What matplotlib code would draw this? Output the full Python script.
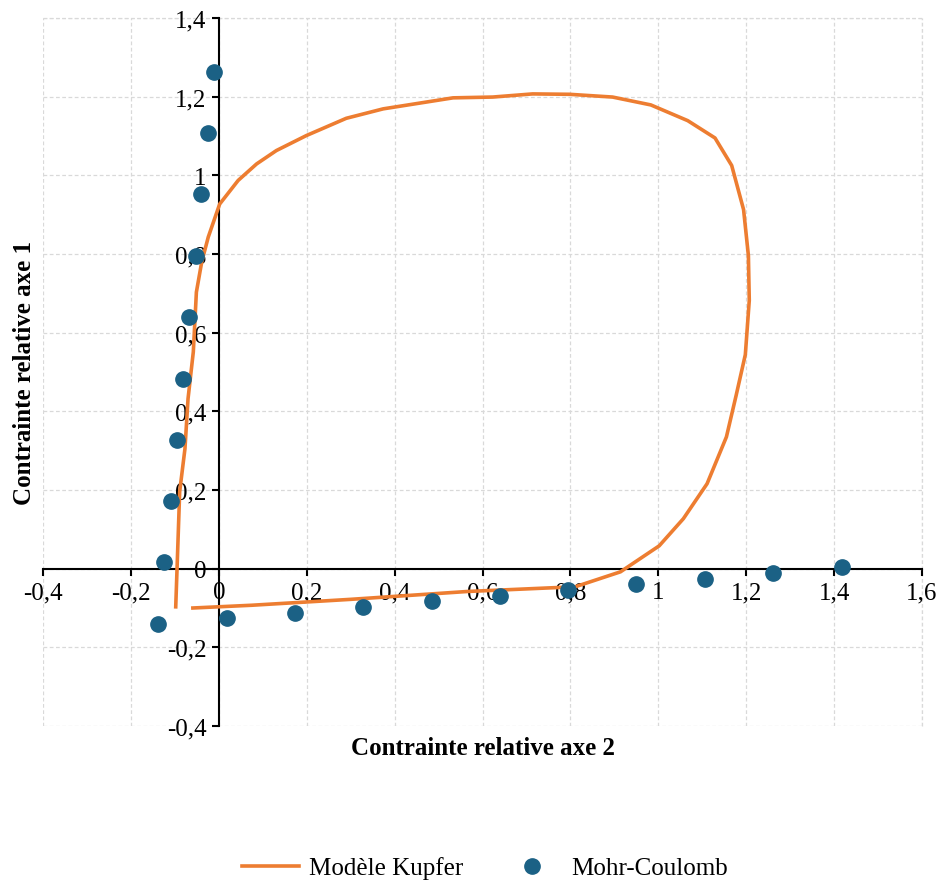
import numpy as np
import matplotlib.pyplot as plt

plt.rcParams['font.family'] = ['Liberation Serif', 'DejaVu Serif']

# Modèle Kupfer (contrainte axe 2, contrainte axe 1)
kupfer_x = [-0.059, 0.075, 0.30, 0.566, 0.811, 0.914, 1.002, 1.057, 1.111, 1.155,
            1.177, 1.198, 1.207, 1.205, 1.194, 1.167, 1.129, 1.067, 0.983, 0.896,
            0.798, 0.714, 0.623, 0.533, 0.374, 0.290, 0.199, 0.131, 0.086, 0.044,
            0.002, -0.024, -0.039, -0.051, -0.058, -0.070, -0.077, -0.089, -0.095, -0.098]
kupfer_y = [-0.100, -0.093, -0.078, -0.058, -0.046, -0.008, 0.058, 0.127, 0.216, 0.335,
            0.440, 0.544, 0.682, 0.796, 0.913, 1.025, 1.095, 1.139, 1.179, 1.199,
            1.206, 1.207, 1.199, 1.197, 1.169, 1.145, 1.101, 1.063, 1.029, 0.987,
            0.927, 0.843, 0.779, 0.703, 0.551, 0.432, 0.305, 0.196, 0.0, -0.097]

# Mohr-Coulomb
mc_x = [-0.011, -0.025, -0.041, -0.052, -0.068, -0.082, -0.095, -0.109, -0.125, -0.139,
        0.018, 0.173, 0.327, 0.484, 0.639, 0.795, 0.950, 1.107, 1.261, 1.418]
mc_y = [1.263, 1.108, 0.953, 0.795, 0.640, 0.483, 0.328, 0.173, 0.018, -0.140,
        -0.125, -0.112, -0.097, -0.081, -0.069, -0.053, -0.038, -0.025, -0.010, 0.003]

ticks_x = np.arange(-0.4, 1.61, 0.2)
ticks_y = np.arange(-0.4, 1.41, 0.2)

def virgule(v):
    s = f"{v:.1f}".replace('.', ',')
    if s in ('0,0', '-0,0'):
        return '0'
    if s.endswith(',0'):
        s = s[:-2]
    return s

fig = plt.figure(figsize=(9.41, 8.87), dpi=100)
ax = fig.add_axes([43/941, 1-727/887, (922-43)/941, (727-19)/887])

ax.plot(kupfer_x, kupfer_y, color='#ED7D31', lw=2.6, label='Modèle Kupfer', zorder=3)
ax.plot(mc_x, mc_y, 'o', color='#1B6185', ms=11, label='Mohr-Coulomb', zorder=4)

ax.set_xlim(-0.4, 1.6)
ax.set_ylim(-0.4, 1.4)
ax.set_xticks(ticks_x)
ax.set_yticks(ticks_y)
ax.set_xticklabels([virgule(v) for v in ticks_x])
ax.set_yticklabels([virgule(v) for v in ticks_y])

ax.spines['left'].set_position(('data', 0))
ax.spines['bottom'].set_position(('data', 0))
ax.spines['right'].set_visible(False)
ax.spines['top'].set_visible(False)
for sp in ('left', 'bottom'):
    ax.spines[sp].set_linewidth(1.5)
ax.tick_params(direction='out', length=5, width=1.5, labelsize=18, pad=4)

ax.grid(True, color='#d9d9d9', ls=(0, (3, 2)), lw=0.9, zorder=0)
ax.set_axisbelow(True)
# grille sur les bords
ax.axvline(1.6, color='#d9d9d9', ls=(0, (3, 2)), lw=0.9, zorder=0, clip_on=False)
ax.axhline(1.4, color='#d9d9d9', ls=(0, (3, 2)), lw=0.9, zorder=0, clip_on=False)

fig.text(483/941, 1-749/887, 'Contrainte relative axe 2', ha='center', va='center',
         fontsize=18, fontweight='bold')
fig.text(25/941, 1-373/887, 'Contrainte relative axe 1', ha='center', va='center',
         fontsize=18, fontweight='bold', rotation=90)

fig.legend(loc='center', bbox_to_anchor=(0.515, 1-869/887), ncol=2, frameon=False,
           fontsize=18, handlelength=2.3, columnspacing=1.6, handletextpad=0.4)

fig.savefig('out.png', dpi=100)
